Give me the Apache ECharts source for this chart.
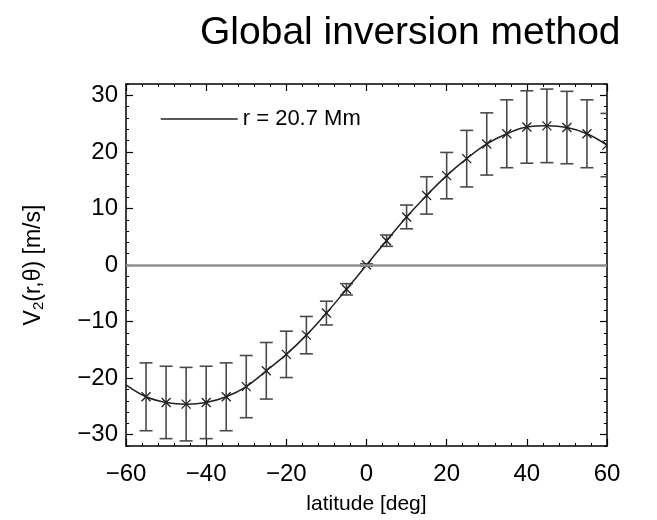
<!DOCTYPE html>
<html>
<head>
<meta charset="utf-8">
<script src="https://cdn.jsdelivr.net/npm/echarts@6/dist/echarts.min.js"></script>
<style>html,body{margin:0;padding:0;background:#fff}#c{width:657px;height:520px}</style>
</head>
<body>
<div id="c"></div>
<script>
// Data
var latitudes = [-60,-55,-50,-45,-40,-35,-30,-25,-20,-15,-10,-5,0,5,10,15,20,25,30,35,40,45,50,55,60];
var velocity  = [-21.2,-23.3,-24.3,-24.6,-24.3,-23.3,-21.5,-18.7,-15.8,-12.4,-8.5,-4.3,0,4.3,8.5,12.3,15.8,18.8,21.4,23.2,24.4,24.6,24.3,23.2,21.2];
var errors    = [null,6.0,6.4,6.5,6.4,6.0,5.5,5.0,4.1,3.3,2.1,1.0,0.2,1.0,2.1,3.3,4.1,5.0,5.5,6.0,6.4,6.5,6.4,6.0,5.6];
var yMajorTicks = [-30,-20,-10,0,10,20,30];
var zeroLevel = 0;
var seriesName = 'r = 20.7 Mm';
var titleText = 'Global inversion method';

var FONT = '"Liberation Sans", Arial, Helvetica, sans-serif';
var chart = echarts.init(document.getElementById('c'), null, {renderer: 'canvas'});

function fmt(v) { return v < 0 ? '\u2212' + Math.abs(v) : String(v); }

var curveData = latitudes.map(function (x, i) { return [x, velocity[i]]; });
var errData = [];
latitudes.forEach(function (x, i) { if (errors[i] !== null) errData.push([x, velocity[i], errors[i]]); });

var yBase = {type: 'value', min: -32, max: 32, splitLine: {show: false}, gridIndex: 0};

var option = {
  backgroundColor: '#fff',
  animation: false,
  title: {
    text: titleText, left: 195, top: 9,
    textStyle: {fontFamily: FONT, fontSize: 39, fontWeight: 'normal', color: '#000'}
  },
  legend: {
    data: [seriesName], left: 155, top: 103, itemWidth: 77, itemHeight: 14,
    textStyle: {fontFamily: FONT, fontSize: 22, color: '#000'},
    itemStyle: {opacity: 0},
    lineStyle: {color: '#222', width: 1.5},
    selectedMode: false
  },
  grid: {left: 126, right: 50, top: 84, bottom: 72},
  xAxis: [
    {type: 'value', position: 'bottom', min: -60, max: 60, interval: 20,
     axisLine: {onZero: false, lineStyle: {color: '#000', width: 1.5}},
     axisTick: {inside: true, length: 7, lineStyle: {color: '#000', width: 1.2}},
     minorTick: {show: true, splitNumber: 5, length: 3, lineStyle: {color: '#000', width: 1}},
     axisLabel: {formatter: fmt, fontFamily: FONT, fontSize: 24, color: '#000', margin: 16},
     splitLine: {show: false},
     name: 'latitude [deg]', nameLocation: 'middle', nameGap: 48,
     nameTextStyle: {fontFamily: FONT, fontSize: 21, color: '#000'}},
    {type: 'value', position: 'top', min: -60, max: 60, interval: 20,
     axisLine: {onZero: false, lineStyle: {color: '#000', width: 1.5}},
     axisTick: {inside: true, length: 7, lineStyle: {color: '#000', width: 1.2}},
     minorTick: {show: true, splitNumber: 5, length: 3, lineStyle: {color: '#000', width: 1}},
     axisLabel: {show: false}, splitLine: {show: false}}
  ],
  yAxis: [
    Object.assign({}, yBase, {position: 'left', interval: 2,
      axisLine: {onZero: false, lineStyle: {color: '#000', width: 1.5}},
      axisTick: {inside: true, length: 3, lineStyle: {color: '#000', width: 1}},
      axisLabel: {formatter: function (v) { return (v % 10 === 0) ? fmt(v) : ''; },
                  fontFamily: FONT, fontSize: 24, color: '#000', margin: 8},
      name: '{v|V}{s|2}{v|(r,\u03b8) [m/s]}', nameLocation: 'middle', nameGap: 80, nameRotate: 90,
      nameTextStyle: {rich: {v: {fontFamily: FONT, fontSize: 23, color: '#000'},
                             s: {fontFamily: FONT, fontSize: 15, color: '#000', verticalAlign: 'bottom', padding: [9, 0, 0, 0]}}}}),
    Object.assign({}, yBase, {position: 'left',
      axisLine: {show: false, onZero: false},
      axisTick: {inside: true, length: 7, customValues: yMajorTicks, lineStyle: {color: '#000', width: 1.2}},
      axisLabel: {show: false}}),
    Object.assign({}, yBase, {position: 'right', interval: 2,
      axisLine: {onZero: false, lineStyle: {color: '#000', width: 1.5}},
      axisTick: {inside: true, length: 3, lineStyle: {color: '#000', width: 1}},
      axisLabel: {show: false}}),
    Object.assign({}, yBase, {position: 'right',
      axisLine: {show: false, onZero: false},
      axisTick: {inside: true, length: 7, customValues: yMajorTicks, lineStyle: {color: '#000', width: 1.2}},
      axisLabel: {show: false}})
  ],
  series: [
    {type: 'line', name: 'zero', data: [], xAxisIndex: 0, yAxisIndex: 0, z: 1,
     markLine: {silent: true, symbol: 'none', label: {show: false},
                lineStyle: {color: '#909090', width: 2.5, type: 'solid'},
                data: [{yAxis: zeroLevel}]}},
    {type: 'custom', name: 'errors', xAxisIndex: 0, yAxisIndex: 0, z: 3, clip: true,
     data: errData,
     renderItem: function (params, api) {
       var x = api.value(0), y = api.value(1), e = api.value(2);
       var p = api.coord([x, y]);
       var t = api.coord([x, y + e]);
       var b = api.coord([x, y - e]);
       var cw = 6.5, m = 4.5;
       var st = {stroke: '#4a4a4a', lineWidth: 1.6, fill: null};
       var mk = {stroke: '#222', lineWidth: 1.3, fill: null};
       return {type: 'group', children: [
         {type: 'line', shape: {x1: p[0], y1: t[1], x2: p[0], y2: b[1]}, style: st},
         {type: 'line', shape: {x1: p[0] - cw, y1: t[1], x2: p[0] + cw, y2: t[1]}, style: st},
         {type: 'line', shape: {x1: p[0] - cw, y1: b[1], x2: p[0] + cw, y2: b[1]}, style: st},
         {type: 'line', shape: {x1: p[0] - m, y1: p[1] - m, x2: p[0] + m, y2: p[1] + m}, style: mk},
         {type: 'line', shape: {x1: p[0] - m, y1: p[1] + m, x2: p[0] + m, y2: p[1] - m}, style: mk}
       ]};
     }},
    {type: 'line', name: seriesName, xAxisIndex: 0, yAxisIndex: 0, z: 4,
     data: curveData, smooth: 0.4, symbol: 'none',
     lineStyle: {color: '#222', width: 1.5}, itemStyle: {color: '#222'}}
  ]
};
chart.setOption(option);
</script>
</body>
</html>
